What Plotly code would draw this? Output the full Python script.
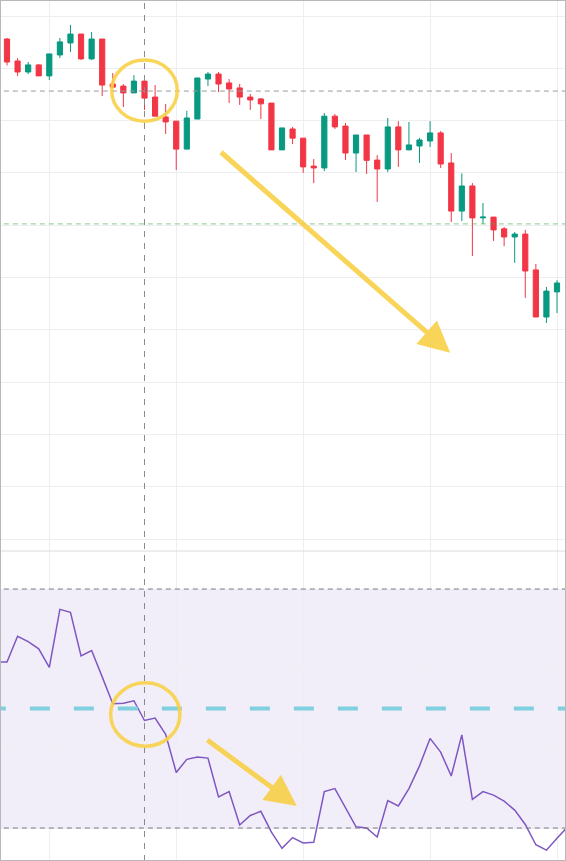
import plotly.graph_objects as go

# candle data
opens = [99.12, 98.28, 97.86, 98.13, 97.71, 98.51, 98.97, 99.31, 98.36, 99.12,
         97.40, 97.32, 97.06, 97.51, 96.90, 96.14, 95.98, 94.91, 96.06, 97.59,
         97.78, 97.44, 97.25, 96.90, 96.83, 96.67, 94.88, 95.68, 95.33, 94.26,
         94.19, 96.17, 95.79, 94.76, 95.45, 94.49, 94.15, 95.76, 94.88, 95.03,
         95.22, 95.53, 94.38, 92.54, 93.50, 92.28, 92.31, 91.86, 91.55, 91.66,
         90.29, 88.49, 89.45]
highs = [99.16, 98.39, 98.24, 98.16, 98.55, 99.16, 99.66, 99.31, 99.39, 99.12,
         97.82, 97.40, 97.74, 97.51, 97.36, 96.64, 95.98, 96.37, 97.63, 97.86,
         97.86, 97.59, 97.40, 97.02, 96.86, 96.67, 95.72, 95.76, 95.33, 94.53,
         96.29, 96.25, 95.91, 95.45, 95.45, 94.68, 96.10, 95.98, 95.95, 95.34,
         95.98, 95.60, 94.76, 93.98, 93.61, 92.85, 92.31, 91.93, 91.74, 91.82,
         90.52, 89.64, 89.90]
lows = [98.11, 97.71, 97.78, 97.71, 97.55, 98.39, 98.62, 98.32, 98.32, 96.94,
        97.25, 96.52, 97.06, 96.41, 96.17, 95.49, 94.11, 94.91, 96.06, 97.32,
        97.09, 96.67, 96.60, 96.41, 96.06, 94.88, 94.88, 95.10, 94.00, 93.61,
        94.07, 95.68, 94.49, 94.03, 93.96, 92.89, 94.03, 94.23, 94.88, 94.38,
        94.99, 94.19, 92.12, 92.16, 90.82, 92.05, 91.40, 91.20, 90.56, 89.22,
        88.49, 88.26, 88.64]
closes = [98.24, 97.86, 98.13, 97.71, 98.55, 99.01, 99.31, 98.36, 99.12, 97.36,
          97.28, 97.06, 97.51, 96.86, 96.17, 95.95, 94.91, 96.10, 97.63, 97.78,
          97.40, 97.21, 96.90, 96.79, 96.64, 94.88, 95.72, 95.33, 94.23, 94.19,
          96.17, 95.76, 94.76, 95.45, 94.48, 94.15, 95.76, 94.88, 95.07, 95.26,
          95.53, 94.34, 92.54, 93.50, 92.28, 92.31, 91.82, 91.55, 91.66, 90.25,
          88.49, 89.48, 89.79]
days = list(range(len(opens)))

# RSI, one value per bar plus one bar either side of the view
rsi = [57.8, 57.8, 62.1, 61.2, 60.0, 56.9, 66.6, 66.1, 58.8, 59.7,
       55.3, 50.8, 50.9, 51.3, 48.0, 48.4, 45.7, 39.3, 41.5, 41.9,
       41.7, 35.2, 36.1, 30.5, 32.1, 32.8, 29.3, 26.6, 28.4, 27.5,
       27.6, 36.1, 36.6, 33.4, 30.2, 30.0, 28.5, 34.6, 33.7, 36.6,
       40.4, 45.0, 42.7, 38.7, 45.6, 34.8, 36.1, 35.5, 34.5, 33.0,
       30.6, 27.2, 26.3, 28.3, 30.2]
rsi_days = list(range(-1, len(rsi) - 1))

support_level = 92.05
marked_level = 97.13
marked_day = 13
rsi_upper, rsi_mid, rsi_lower = 70, 50, 30

yellow = "rgba(248,208,72,0.9)"
grid = "#eeeef0"

fig = go.Figure()

# RSI band
fig.add_shape(type="rect", xref="x", yref="y2", x0=-2, x1=55, y0=rsi_lower, y1=rsi_upper,
              fillcolor="rgba(126,87,194,0.1)", line_width=0, layer="below")

fig.add_trace(go.Candlestick(
    x=days, open=opens, high=highs, low=lows, close=closes,
    increasing=dict(line=dict(color="#089981", width=1), fillcolor="#089981"),
    decreasing=dict(line=dict(color="#F23645", width=1), fillcolor="#F23645"),
    whiskerwidth=0, showlegend=False, xaxis="x", yaxis="y"))

fig.add_trace(go.Scatter(x=rsi_days, y=rsi, mode="lines",
                         line=dict(color="#7E57C2", width=1.5),
                         showlegend=False, xaxis="x2", yaxis="y2"))

# level lines
fig.add_shape(type="line", xref="x", yref="y", x0=-2, x1=55, y0=marked_level, y1=marked_level,
              line=dict(color="#9a9a9a", width=1, dash="5px,4px"))
fig.add_shape(type="line", xref="x", yref="y", x0=-2, x1=55, y0=support_level, y1=support_level,
              line=dict(color="rgba(76,175,80,0.65)", width=1, dash="5px,4px"))
for lvl in (rsi_upper, rsi_lower):
    fig.add_shape(type="line", xref="x", yref="y2", x0=-2, x1=55, y0=lvl, y1=lvl,
                  line=dict(color="#787B86", width=1, dash="5px,4px"))
fig.add_shape(type="line", xref="x", yref="y2", x0=-2, x1=55, y0=rsi_mid, y1=rsi_mid,
              line=dict(color="#80D0E0", width=4, dash="20px,24px"))

# crosshair
fig.add_shape(type="line", xref="x", yref="paper", x0=marked_day, x1=marked_day, y0=0, y1=1,
              line=dict(color="#8a8a8a", width=1, dash="6px,6px"))

# pane separator and frame
fig.add_shape(type="line", xref="paper", yref="paper", x0=0, x1=1, y0=0.36, y1=0.36,
              line=dict(color="#dcdcdc", width=1))
fig.add_shape(type="rect", xref="paper", yref="paper", x0=0, x1=1, y0=0, y1=1,
              line=dict(color="#b8b8b8", width=2))

# highlight circles
fig.add_shape(type="circle", xref="x", yref="y", x0=9.9, x1=16.1, y0=95.98, y1=98.32,
              line=dict(color=yellow, width=3.5))
fig.add_shape(type="circle", xref="x", yref="y2", x0=9.8, x1=16.35, y0=43.7, y1=54.3,
              line=dict(color=yellow, width=3.5))

# trend arrows
fig.add_annotation(x=41.9, y=87.12, ax=20.1, ay=94.84, xref="x", yref="y", axref="x", ayref="y",
                   text="", showarrow=True, arrowhead=2, arrowsize=1.25, arrowwidth=5,
                   arrowcolor=yellow)
fig.add_annotation(x=27.4, y=33.7, ax=18.8, ay=44.9, xref="x2", yref="y2", axref="x2", ayref="y2",
                   text="", showarrow=True, arrowhead=2, arrowsize=1.25, arrowwidth=5,
                   arrowcolor=yellow)

xr = [-0.662, 52.85]
common_x = dict(range=xr, showgrid=True, gridcolor=grid, gridwidth=1,
                tickvals=[4, 16, 28, 40, 52], showticklabels=False, zeroline=False,
                showline=False, fixedrange=True)

fig.update_layout(
    width=566, height=861,
    margin=dict(l=0, r=0, t=0, b=0),
    paper_bgcolor="white", plot_bgcolor="white",
    xaxis=dict(common_x, anchor="y", rangeslider=dict(visible=False)),
    xaxis2=dict(common_x, anchor="y2", matches="x"),
    yaxis=dict(domain=[0.36, 1], range=[79.54, 100.612], tickvals=list(range(80, 101, 2)),
               showgrid=True, gridcolor=grid, showticklabels=False, zeroline=False),
    yaxis2=dict(domain=[0, 0.36], range=[24.48, 76.36],
                tickvals=[30, 43.33, 56.67, 70],
                showgrid=True, gridcolor=grid, showticklabels=False, zeroline=False),
    showlegend=False,
)

# page body has a default 8px margin; drop it so the chart fills the window
fig.write_html("out.html", config={"displayModeBar": False},
               post_script="document.body.style.margin='0';document.body.style.overflow='hidden';")
